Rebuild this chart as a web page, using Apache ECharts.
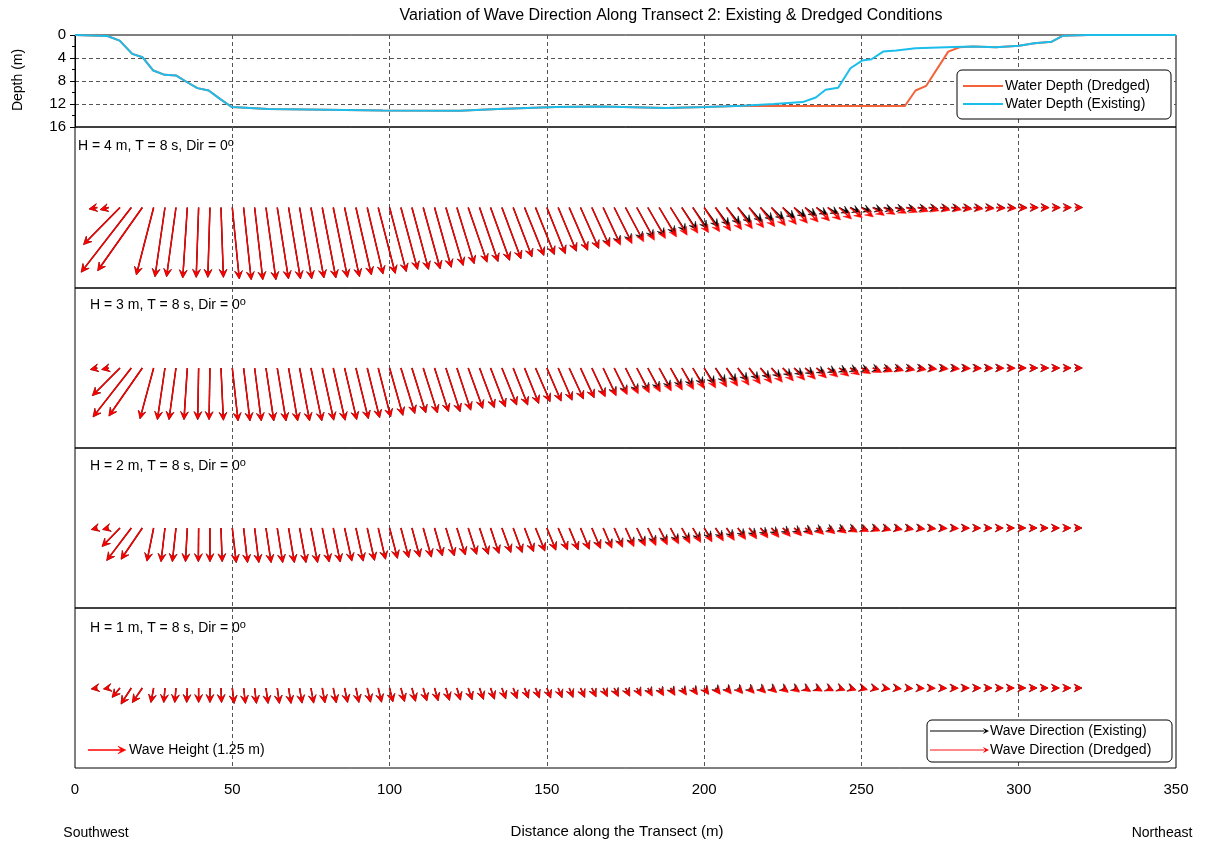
<!DOCTYPE html>
<html><head><meta charset="utf-8">
<script src="https://cdn.jsdelivr.net/npm/echarts@6/dist/echarts.min.js"></script>
<style>html,body{margin:0;padding:0;background:#fff}#c{width:1207px;height:844px}</style>
</head><body><div id="c"></div>
<script>
// ---------------- DATA ----------------
// Bathymetry along the transect (distance m, depth m)
const depthDistExisting = [0,10.3,14.2,18.2,21.5,24.9,28.5,32.2,35.8,38.9,42.5,46.2,49.8,61.4,97.9,122.3,134.5,152.8,167.1,188,200.2,212.4,222.1,231.3,235.5,238.6,242.6,246.5,250.2,253.2,256.9,261.1,267.2,279.4,285.5,292.8,300.1,305,310.5,314.1,322,350];
const depthExisting     = [0,0.17,0.98,3.29,3.87,6.18,6.93,7.05,8.26,9.24,9.65,11.15,12.53,12.88,13.11,13.17,12.88,12.53,12.42,12.7,12.53,12.3,12.0,11.67,10.86,9.53,9.18,5.78,4.45,4.22,2.89,2.71,2.31,2.08,2.02,2.14,1.85,1.44,1.16,0.12,0,0];
const depthDistDredged  = [0,10.3,14.2,18.2,21.5,24.9,28.5,32.2,35.8,38.9,42.5,46.2,49.8,61.4,97.9,122.3,134.5,152.8,167.1,188,200.2,212.4,222.1,263.8,267.2,270.6,277.6,281.2,285.5,292.8,300.1,305,310.5,314.1,322,350];
const depthDredged      = [0,0.17,0.98,3.29,3.87,6.18,6.93,7.05,8.26,9.24,9.65,11.15,12.53,12.88,13.11,13.17,12.88,12.53,12.42,12.7,12.53,12.3,12.35,12.35,9.65,8.84,2.89,2.14,2.02,2.14,1.85,1.44,1.16,0.12,0,0];

// Arrow stations along the transect (m)
const distance = [7.1,10.7,14.3,17.9,21.4,25.0,28.6,32.1,35.7,39.3,42.9,46.4,50.0,53.6,57.1,60.7,64.3,67.9,71.4,75.0,78.6,82.1,85.7,89.3,92.9,96.4,100.0,103.6,107.1,110.7,114.3,117.9,121.4,125.0,128.6,132.1,135.7,139.3,142.9,146.4,150.0,153.6,157.1,160.7,164.3,167.9,171.4,175.0,178.6,182.1,185.7,189.3,192.9,196.4,200.0,203.6,207.1,210.7,214.3,217.9,221.4,225.0,228.6,232.1,235.7,239.3,242.9,246.4,250.0,253.6,257.1,260.7,264.3,267.9,271.4,275.0,278.6,282.1,285.7,289.3,292.9,296.4,300.0,303.6,307.1,310.7,314.3,317.9];

// Wave height vectors: u = eastward component (m), v = northward component (m)
// H = 4 m
const u4Dredged = [-0.27,-0.28,-1.20,-1.65,-1.47,-0.57,-0.33,-0.31,-0.15,-0.08, -0.07,0.08,0.23,0.25,0.27,0.33,0.37,0.39,0.40,0.43, 0.45,0.47,0.49,0.51,0.52,0.56,0.55,0.55,0.55,0.56, 0.55,0.57,0.57,0.62,0.61,0.63,0.63,0.62,0.64,0.62, 0.61,0.60,0.61,0.60,0.59,0.57,0.59,0.60,0.58,0.58, 0.57,0.55,0.53,0.52,0.51,0.50,0.50,0.48,0.48,0.47, 0.46,0.45,0.44,0.43,0.43,0.42,0.41,0.40,0.39,0.38, 0.37,0.37,0.36,0.35,0.34,0.33,0.33,0.32,0.31,0.30, 0.29,0.29,0.28,0.27,0.27,0.26,0.25,0.25];
const v4Dredged = [-0.05,-0.07,-1.22,-2.13,-2.08,-2.22,-2.28,-2.28,-2.32,-2.30, -2.30,-2.30,-2.35,-2.38,-2.38,-2.38,-2.35,-2.35,-2.35,-2.32, -2.32,-2.30,-2.28,-2.22,-2.19,-2.17,-2.11,-2.04,-2.04,-2.02, -1.97,-1.91,-1.85,-1.80,-1.78,-1.74,-1.69,-1.63,-1.58,-1.55, -1.52,-1.44,-1.41,-1.35,-1.30,-1.24,-1.19,-1.13,-1.08,-1.02, -0.97,-0.91,-0.85,-0.83,-0.80,-0.77,-0.73,-0.70,-0.67,-0.63, -0.60,-0.56,-0.52,-0.48,-0.44,-0.41,-0.38,-0.34,-0.31,-0.26, -0.23,-0.19,-0.16,-0.13,-0.11,-0.09,-0.08,-0.06,-0.05,-0.04, -0.03,-0.03,-0.02,-0.01,-0.01,-0.01,0,0];
const u4Existing = [-0.27,-0.28,-1.20,-1.65,-1.47,-0.57,-0.33,-0.31,-0.15,-0.08, -0.07,0.08,0.23,0.25,0.27,0.33,0.37,0.39,0.40,0.43, 0.45,0.47,0.49,0.51,0.52,0.56,0.55,0.55,0.55,0.56, 0.55,0.57,0.57,0.62,0.61,0.63,0.63,0.62,0.64,0.62, 0.61,0.60,0.61,0.60,0.58,0.56,0.57,0.57,0.55,0.55, 0.53,0.51,0.49,0.48,0.47,0.46,0.45,0.44,0.43,0.42, 0.41,0.40,0.39,0.38,0.37,0.36,0.35,0.34,0.33,0.33, 0.32,0.32,0.31,0.31,0.30,0.30,0.29,0.29,0.28,0.28, 0.28,0.27,0.27,0.27,0.26,0.26,0.25,0.25];
const v4Existing = [-0.05,-0.07,-1.22,-2.13,-2.08,-2.22,-2.28,-2.28,-2.32,-2.30, -2.30,-2.30,-2.35,-2.38,-2.38,-2.38,-2.35,-2.35,-2.35,-2.32, -2.32,-2.30,-2.28,-2.22,-2.19,-2.17,-2.11,-2.04,-2.04,-2.02, -1.97,-1.91,-1.85,-1.80,-1.78,-1.74,-1.69,-1.63,-1.58,-1.55, -1.52,-1.44,-1.41,-1.35,-1.27,-1.20,-1.14,-1.07,-1.01,-0.95, -0.88,-0.81,-0.74,-0.70,-0.65,-0.61,-0.56,-0.52,-0.48,-0.44, -0.40,-0.36,-0.32,-0.28,-0.25,-0.22,-0.19,-0.16,-0.13,-0.11, -0.09,-0.07,-0.06,-0.05,-0.04,-0.03,-0.03,-0.02,-0.02,-0.01, -0.01,-0.01,0,0,0,0,0,0];
// H = 3 m
const u3Dredged = [-0.23,-0.23,-0.91,-1.26,-1.10,-0.45,-0.25,-0.23,-0.11,-0.03, -0.03,0.08,0.19,0.21,0.22,0.26,0.29,0.30,0.33,0.36, 0.38,0.39,0.40,0.41,0.41,0.41,0.44,0.46,0.46,0.47, 0.46,0.47,0.46,0.48,0.49,0.49,0.49,0.48,0.47,0.48, 0.47,0.46,0.47,0.45,0.44,0.43,0.43,0.42,0.41,0.41, 0.40,0.39,0.39,0.38,0.38,0.37,0.37,0.37,0.37,0.37, 0.36,0.35,0.35,0.34,0.33,0.33,0.32,0.31,0.30,0.29, 0.29,0.28,0.28,0.28,0.27,0.27,0.27,0.27,0.26,0.26, 0.26,0.26,0.25,0.25,0.25,0.24,0.24,0.24];
const v3Dredged = [-0.05,-0.05,-0.91,-1.61,-1.58,-1.67,-1.70,-1.70,-1.70,-1.70, -1.70,-1.72,-1.74,-1.74,-1.74,-1.74,-1.74,-1.74,-1.74,-1.74, -1.72,-1.72,-1.70,-1.67,-1.64,-1.61,-1.56,-1.50,-1.48,-1.48, -1.44,-1.44,-1.39,-1.33,-1.31,-1.28,-1.22,-1.22,-1.17,-1.11, -1.09,-1.06,-1.02,-0.98,-0.95,-0.92,-0.88,-0.85,-0.82,-0.79, -0.76,-0.73,-0.71,-0.68,-0.66,-0.63,-0.60,-0.57,-0.53,-0.50, -0.47,-0.43,-0.40,-0.37,-0.33,-0.30,-0.27,-0.23,-0.19,-0.15, -0.12,-0.09,-0.07,-0.06,-0.04,-0.03,-0.03,-0.02,-0.02,-0.01, -0.01,-0.01,0,0,0,0,0,0];
const u3Existing = [-0.23,-0.23,-0.91,-1.26,-1.10,-0.45,-0.25,-0.23,-0.11,-0.03, -0.03,0.08,0.19,0.21,0.22,0.26,0.29,0.30,0.33,0.36, 0.38,0.39,0.40,0.41,0.41,0.41,0.44,0.46,0.46,0.47, 0.46,0.47,0.46,0.48,0.49,0.49,0.49,0.48,0.47,0.48, 0.47,0.46,0.47,0.45,0.44,0.42,0.42,0.41,0.40,0.39, 0.38,0.37,0.36,0.35,0.35,0.34,0.33,0.33,0.32,0.32, 0.31,0.30,0.30,0.29,0.28,0.28,0.27,0.26,0.26,0.25, 0.25,0.24,0.24,0.24,0.23,0.23,0.23,0.23,0.23,0.23, 0.23,0.24,0.24,0.25,0.25,0.24,0.24,0.24];
const v3Existing = [-0.05,-0.05,-0.91,-1.61,-1.58,-1.67,-1.70,-1.70,-1.70,-1.70, -1.70,-1.72,-1.74,-1.74,-1.74,-1.74,-1.74,-1.74,-1.74,-1.74, -1.72,-1.72,-1.70,-1.67,-1.64,-1.61,-1.56,-1.50,-1.48,-1.48, -1.44,-1.44,-1.39,-1.33,-1.31,-1.28,-1.22,-1.22,-1.17,-1.11, -1.09,-1.06,-1.02,-0.98,-0.93,-0.89,-0.84,-0.80,-0.76,-0.72, -0.68,-0.64,-0.61,-0.57,-0.54,-0.50,-0.47,-0.43,-0.40,-0.36, -0.33,-0.29,-0.26,-0.23,-0.20,-0.17,-0.14,-0.11,-0.09,-0.07, -0.05,-0.04,-0.03,-0.02,-0.02,-0.01,-0.01,-0.01,0,0, 0,0,0,0,0,0,0,0];
// H = 2 m
const u2Dredged = [-0.20,-0.20,-0.59,-0.81,-0.70,-0.22,-0.13,-0.12,-0.06,-0.01, 0,0.04,0.13,0.13,0.14,0.17,0.18,0.19,0.21,0.22, 0.23,0.23,0.24,0.24,0.24,0.24,0.26,0.26,0.26,0.27, 0.26,0.28,0.28,0.28,0.29,0.28,0.30,0.30,0.30,0.31, 0.30,0.31,0.30,0.29,0.29,0.29,0.28,0.28,0.28,0.27, 0.27,0.27,0.27,0.26,0.26,0.26,0.26,0.26,0.25,0.25, 0.25,0.25,0.25,0.25,0.24,0.24,0.24,0.24,0.24,0.24, 0.24,0.24,0.24,0.24,0.24,0.24,0.24,0.24,0.23,0.23, 0.23,0.23,0.23,0.23,0.23,0.23,0.23,0.23];
const v2Dredged = [-0.05,-0.05,-0.61,-1.07,-1.03,-1.09,-1.11,-1.11,-1.11,-1.11, -1.11,-1.11,-1.14,-1.14,-1.14,-1.14,-1.14,-1.14,-1.14,-1.14, -1.12,-1.12,-1.09,-1.09,-1.07,-1.03,-1.00,-0.98,-0.96,-0.96, -0.92,-0.92,-0.89,-0.87,-0.87,-0.84,-0.81,-0.81,-0.78,-0.76, -0.73,-0.72,-0.72,-0.70,-0.68,-0.67,-0.64,-0.62,-0.60,-0.58, -0.56,-0.53,-0.51,-0.48,-0.46,-0.43,-0.41,-0.38,-0.36,-0.33, -0.31,-0.28,-0.26,-0.23,-0.21,-0.19,-0.17,-0.14,-0.12,-0.10, -0.08,-0.06,-0.05,-0.04,-0.03,-0.02,-0.02,-0.01,-0.01,-0.01, 0,0,0,0,0,0,0,0];
const u2Existing = [-0.20,-0.20,-0.59,-0.81,-0.70,-0.22,-0.13,-0.12,-0.06,-0.01, 0,0.04,0.13,0.13,0.14,0.17,0.18,0.19,0.21,0.22, 0.23,0.23,0.24,0.24,0.24,0.24,0.26,0.26,0.26,0.27, 0.26,0.28,0.28,0.28,0.29,0.28,0.30,0.30,0.30,0.31, 0.30,0.31,0.30,0.29,0.28,0.28,0.27,0.27,0.27,0.26, 0.26,0.26,0.25,0.25,0.25,0.25,0.24,0.24,0.24,0.24, 0.23,0.23,0.23,0.23,0.22,0.22,0.22,0.22,0.22,0.21, 0.21,0.21,0.21,0.21,0.21,0.21,0.21,0.22,0.22,0.22, 0.22,0.23,0.23,0.23,0.23,0.23,0.23,0.23];
const v2Existing = [-0.05,-0.05,-0.61,-1.07,-1.03,-1.09,-1.11,-1.11,-1.11,-1.11, -1.11,-1.11,-1.14,-1.14,-1.14,-1.14,-1.14,-1.14,-1.14,-1.14, -1.12,-1.12,-1.09,-1.09,-1.07,-1.03,-1.00,-0.98,-0.96,-0.96, -0.92,-0.92,-0.89,-0.87,-0.87,-0.84,-0.81,-0.81,-0.78,-0.76, -0.73,-0.72,-0.72,-0.70,-0.66,-0.64,-0.61,-0.58,-0.55,-0.52, -0.50,-0.47,-0.44,-0.41,-0.38,-0.36,-0.33,-0.30,-0.28,-0.25, -0.23,-0.20,-0.18,-0.15,-0.13,-0.11,-0.09,-0.07,-0.06,-0.05, -0.04,-0.03,-0.02,-0.02,-0.01,-0.01,-0.01,0,0,0, 0,0,0,0,0,0,0,0];
// H = 1 m
const u1Dredged = [-0.20,-0.17,-0.26,-0.34,-0.33,-0.09,-0.04,-0.04,-0.02,0, 0,0.02,0.06,0.06,0.06,0.07,0.07,0.08,0.08,0.09, 0.09,0.10,0.10,0.10,0.11,0.11,0.11,0.12,0.12,0.12, 0.12,0.12,0.12,0.13,0.13,0.13,0.13,0.13,0.13,0.13, 0.13,0.13,0.13,0.14,0.14,0.14,0.14,0.14,0.14,0.15, 0.15,0.15,0.15,0.15,0.15,0.16,0.16,0.16,0.17,0.17, 0.17,0.18,0.18,0.18,0.19,0.19,0.19,0.20,0.20,0.20, 0.21,0.21,0.21,0.22,0.22,0.22,0.23,0.23,0.23,0.23, 0.23,0.23,0.23,0.23,0.23,0.23,0.23,0.23];
const v1Dredged = [-0.03,-0.03,-0.31,-0.53,-0.48,-0.48,-0.48,-0.48,-0.48,-0.48, -0.48,-0.48,-0.51,-0.51,-0.51,-0.51,-0.51,-0.51,-0.50,-0.50, -0.49,-0.49,-0.48,-0.48,-0.47,-0.47,-0.46,-0.45,-0.44,-0.43, -0.42,-0.41,-0.40,-0.39,-0.38,-0.37,-0.36,-0.35,-0.34,-0.33, -0.33,-0.32,-0.31,-0.31,-0.30,-0.29,-0.29,-0.28,-0.27,-0.27, -0.26,-0.25,-0.24,-0.23,-0.22,-0.21,-0.20,-0.19,-0.18,-0.17, -0.16,-0.15,-0.14,-0.12,-0.11,-0.10,-0.08,-0.07,-0.06,-0.05, -0.04,-0.03,-0.02,-0.02,-0.01,-0.01,-0.01,0,0,0, 0,0,0,0,0,0,0,0];
const u1Existing = [-0.20,-0.17,-0.26,-0.34,-0.33,-0.09,-0.04,-0.04,-0.02,0, 0,0.02,0.06,0.06,0.06,0.07,0.07,0.08,0.08,0.09, 0.09,0.10,0.10,0.10,0.11,0.11,0.11,0.12,0.12,0.12, 0.12,0.12,0.12,0.13,0.13,0.13,0.13,0.13,0.13,0.13, 0.13,0.13,0.13,0.14,0.14,0.14,0.14,0.14,0.14,0.14, 0.14,0.14,0.15,0.15,0.15,0.15,0.15,0.16,0.16,0.16, 0.16,0.17,0.17,0.17,0.17,0.18,0.18,0.18,0.18,0.19, 0.19,0.19,0.20,0.20,0.20,0.21,0.21,0.21,0.22,0.22, 0.22,0.22,0.23,0.23,0.23,0.23,0.23,0.23];
const v1Existing = [-0.03,-0.03,-0.31,-0.53,-0.48,-0.48,-0.48,-0.48,-0.48,-0.48, -0.48,-0.48,-0.51,-0.51,-0.51,-0.51,-0.51,-0.51,-0.50,-0.50, -0.49,-0.49,-0.48,-0.48,-0.47,-0.47,-0.46,-0.45,-0.44,-0.43, -0.42,-0.41,-0.40,-0.39,-0.38,-0.37,-0.36,-0.35,-0.34,-0.33, -0.33,-0.32,-0.31,-0.31,-0.29,-0.28,-0.27,-0.26,-0.25,-0.24, -0.23,-0.22,-0.21,-0.20,-0.19,-0.17,-0.16,-0.15,-0.14,-0.13, -0.12,-0.11,-0.10,-0.09,-0.08,-0.07,-0.06,-0.05,-0.04,-0.03, -0.03,-0.02,-0.02,-0.01,-0.01,-0.01,0,0,0,0, 0,0,0,0,0,0,0,0];

const waveHeights = [4, 3, 2, 1];     // offshore H (m) per panel
const wavePeriod = 8;                 // s
const waveDir = 0;                    // deg
const refArrowHeight = 1.25;          // m (scale arrow)

const panelsU = [[u4Existing, u4Dredged], [u3Existing, u3Dredged], [u2Existing, u2Dredged], [u1Existing, u1Dredged]];
const panelsV = [[v4Existing, v4Dredged], [v3Existing, v3Dredged], [v2Existing, v2Dredged], [v1Existing, v1Dredged]];

// ---------------- LAYOUT / STYLE ----------------
const FONT = '"Liberation Sans", Arial, sans-serif';
const PLOT_L = 75, PLOT_R = 1207 - 1176;
const PX_PER_M = 30.4;
const panelTops = [127, 288, 448, 608];
const panelHs = [161, 160, 160, 160];
const dash = { type: [4, 3], color: '#555', width: 1 };

const chart = echarts.init(document.getElementById('c'), null, { renderer: 'canvas' });

const grids = [{ left: PLOT_L, right: PLOT_R, top: 35, height: 92, show: true, borderColor: '#000', borderWidth: 1, backgroundColor: 'transparent' }];
panelTops.forEach((t, i) => grids.push({ left: PLOT_L, right: PLOT_R, top: t, height: panelHs[i], show: true, borderColor: '#000', borderWidth: 1 }));

const xAxes = grids.map((g, i) => ({
  type: 'value', gridIndex: i, min: 0, max: 350, interval: 50,
  axisLine: { show: false }, axisTick: { show: false },
  axisLabel: { show: i === 4, color: '#000', fontSize: 15, fontFamily: FONT, margin: 14 },
  splitLine: { show: true, lineStyle: dash, showMinLine: false, showMaxLine: false }
}));

const yAxes = [{
  type: 'value', gridIndex: 0, inverse: true, min: 0, max: 16, interval: 4,
  axisLine: { show: true, lineStyle: { color: '#000' } },
  axisTick: { show: true, length: 5, lineStyle: { color: '#000' } },
  minorTick: { show: true, splitNumber: 2, length: 3, lineStyle: { color: '#000' } },
  axisLabel: { color: '#000', fontSize: 15, fontFamily: FONT, margin: 9 },
  splitLine: { show: true, lineStyle: dash, showMinLine: false, showMaxLine: false }
}];
panelHs.forEach((h, i) => {
  const half = h / 2 / PX_PER_M;
  yAxes.push({ type: 'value', gridIndex: i + 1, min: -half, max: half, show: false, splitLine: { show: false } });
});

function makeArrowRender(color, lineW) {
  return function (params, api) {
    const p0 = api.coord([api.value(0), api.value(1)]);
    const k = api.size([0, 1])[1];
    const dx = api.value(2) * k, dy = -api.value(3) * k;
    const len = Math.hypot(dx, dy);
    if (len < 0.5) return;
    const ux = dx / len, uy = dy / len;
    const tip = [p0[0] + dx, p0[1] + dy];
    const HL = 8, HW = 3.9, NOTCH = 4.6;
    const back = [tip[0] - ux * HL, tip[1] - uy * HL];
    const left = [back[0] - uy * HW, back[1] + ux * HW];
    const right = [back[0] + uy * HW, back[1] - ux * HW];
    const nb = [tip[0] - ux * NOTCH, tip[1] - uy * NOTCH];
    const children = [];
    const shaftEnd = len > NOTCH ? [tip[0] - ux * NOTCH, tip[1] - uy * NOTCH] : p0;
    children.push({ type: 'line', shape: { x1: p0[0], y1: p0[1], x2: shaftEnd[0], y2: shaftEnd[1] }, style: { stroke: color, lineWidth: lineW } });
    children.push({ type: 'polygon', shape: { points: [tip, left, nb, right] }, style: { fill: color, stroke: color, lineWidth: 0.5, lineJoin: 'round' } });
    return { type: 'group', children };
  };
}

const series = [
  { type: 'line', name: 'Water Depth (Dredged)', xAxisIndex: 0, yAxisIndex: 0, showSymbol: false, symbol: 'none',
    data: depthDistDredged.map((d, i) => [d, depthDredged[i]]), lineStyle: { color: '#F4623A', width: 2 }, z: 3 },
  { type: 'line', name: 'Water Depth (Existing)', xAxisIndex: 0, yAxisIndex: 0, showSymbol: false, symbol: 'none',
    data: depthDistExisting.map((d, i) => [d, depthExisting[i]]), lineStyle: { color: '#1BBDEB', width: 2 }, z: 4 }
];
for (let p = 0; p < 4; p++) {
  ['#000000', '#FF0000'].forEach((col, s) => {
    const U = panelsU[p][s], V = panelsV[p][s];
    series.push({
      type: 'custom', xAxisIndex: p + 1, yAxisIndex: p + 1, z: 3 + s,
      renderItem: makeArrowRender(col, 1.4),
      data: distance.map((d, j) => [d, 0, U[j], V[j]]),
      silent: true
    });
  });
}
// scale arrow (1.25 m) in the bottom panel
series.push({
  type: 'custom', xAxisIndex: 4, yAxisIndex: 4, z: 6, renderItem: makeArrowRender('#FF0000', 1.3),
  data: [[4.1, -2.04, refArrowHeight, 0]], silent: true
});

const panelLabelPos = [[78, 146], [90, 305], [90, 466], [90, 628]];
const graphics = [
  { type: 'text', x: 671, y: 16, style: { text: 'Variation of Wave Direction Along Transect 2: Existing & Dredged Conditions', font: '16px ' + FONT, fill: '#000', textAlign: 'center', textVerticalAlign: 'middle' } },
  { type: 'text', x: 18, y: 80, rotation: Math.PI / 2, style: { text: 'Depth (m)', font: '14px ' + FONT, fill: '#000', textAlign: 'center', textVerticalAlign: 'middle' } },
  { type: 'text', x: 617, y: 832, style: { text: 'Distance along the Transect (m)', font: '15px ' + FONT, fill: '#000', textAlign: 'center', textVerticalAlign: 'middle' } },
  { type: 'text', x: 96, y: 833, style: { text: 'Southwest', font: '14px ' + FONT, fill: '#000', textAlign: 'center', textVerticalAlign: 'middle' } },
  { type: 'text', x: 1162, y: 833, style: { text: 'Northeast', font: '14px ' + FONT, fill: '#000', textAlign: 'center', textVerticalAlign: 'middle' } },
  // depth legend
  { type: 'rect', shape: { x: 957, y: 70, width: 214, height: 49, r: 5 }, style: { fill: '#fff', stroke: '#000', lineWidth: 1 }, z: 100 },
  { type: 'line', shape: { x1: 963, y1: 86, x2: 1003, y2: 86 }, style: { stroke: '#F4623A', lineWidth: 2 }, z: 101 },
  { type: 'line', shape: { x1: 963, y1: 104, x2: 1003, y2: 104 }, style: { stroke: '#1BBDEB', lineWidth: 2 }, z: 101 },
  { type: 'text', x: 1005, y: 86, style: { text: 'Water Depth (Dredged)', font: '14px ' + FONT, fill: '#000', textVerticalAlign: 'middle' }, z: 101 },
  { type: 'text', x: 1005, y: 104, style: { text: 'Water Depth (Existing)', font: '14px ' + FONT, fill: '#000', textVerticalAlign: 'middle' }, z: 101 },
  // arrow legend
  { type: 'rect', shape: { x: 927, y: 720, width: 245, height: 42, r: 5 }, style: { fill: '#fff', stroke: '#000', lineWidth: 1 }, z: 100 },
  { type: 'line', shape: { x1: 930, y1: 731, x2: 984, y2: 731 }, style: { stroke: '#555', lineWidth: 1.5 }, z: 101 },
  { type: 'polygon', shape: { points: [[989, 731], [983, 728], [985, 731], [983, 734]] }, style: { fill: '#000' }, z: 101 },
  { type: 'line', shape: { x1: 930, y1: 750, x2: 984, y2: 750 }, style: { stroke: '#FF6060', lineWidth: 1.5 }, z: 101 },
  { type: 'polygon', shape: { points: [[989, 750], [983, 747], [985, 750], [983, 753]] }, style: { fill: '#FF0000' }, z: 101 },
  { type: 'text', x: 990, y: 731, style: { text: 'Wave Direction (Existing)', font: '14px ' + FONT, fill: '#000', textVerticalAlign: 'middle' }, z: 101 },
  { type: 'text', x: 990, y: 750, style: { text: 'Wave Direction (Dredged)', font: '14px ' + FONT, fill: '#000', textVerticalAlign: 'middle' }, z: 101 },
  { type: 'text', x: 129, y: 750, style: { text: 'Wave Height (' + refArrowHeight + ' m)', font: '14px ' + FONT, fill: '#000', textVerticalAlign: 'middle' }, z: 101 }
];
waveHeights.forEach((h, i) => {
  graphics.push({
    type: 'text', x: panelLabelPos[i][0], y: panelLabelPos[i][1],
    style: {
      text: '{m|H = ' + h + ' m, T = ' + wavePeriod + ' s, Dir = ' + waveDir + '}{s|o}',
      textVerticalAlign: 'middle',
      rich: {
        m: { fontSize: 14, fontFamily: FONT, color: '#000', lineHeight: 18, verticalAlign: 'middle' },
        s: { fontSize: 11, fontFamily: FONT, color: '#000', lineHeight: 8, verticalAlign: 'top' }
      }
    }, z: 101
  });
});

chart.setOption({
  animation: false,
  backgroundColor: '#fff',
  grid: grids,
  xAxis: xAxes,
  yAxis: yAxes,
  series: series,
  graphic: graphics
});
</script></body></html>
